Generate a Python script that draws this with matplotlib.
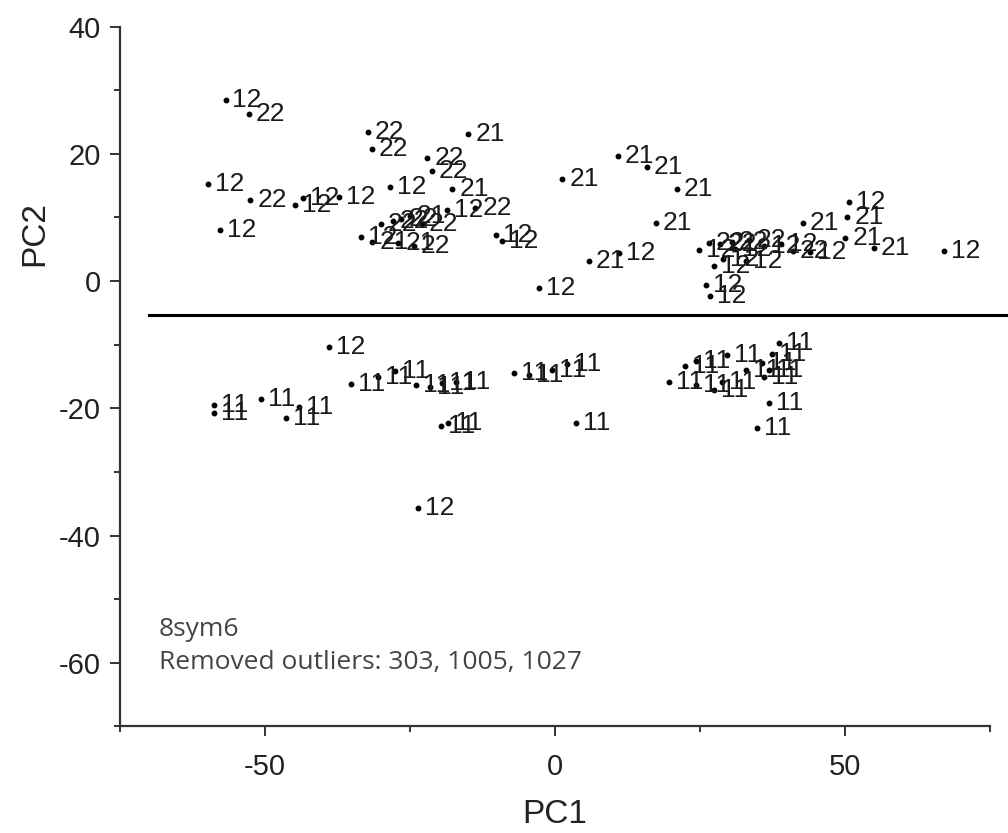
import matplotlib
matplotlib.use('Agg')
import matplotlib.pyplot as plt
from matplotlib.ticker import MultipleLocator

# PCA scores and group label per sample
pc1 = [-56.8, -52.8, -32.2, -31.6, -22.0, -21.2, -17.7, -14.9,
       -59.8, -52.5, -44.8, -43.5, -37.2, -28.5, -57.8,
       -33.5, -31.5, -30.0, -28.0, -26.5, -25.0, -27.0, -24.3, -23.0,
       -18.6, -13.7, -10.1, -9.1,
       1.3, 10.9, 15.9, 21.0, 17.4, 5.9, 11.0, -2.8,
       50.7, 42.8, 50.4, 50.1, 55.0, 67.1,
       24.8, 27.4, 26.0, 26.8,
       26.5, 28.5, 30.5, 33.5, 36.0, 39.0, 29.0, 33.0, 41.0, 44.0, 31.0,
       -39.0, -23.6,
       -58.8, -58.8, -50.7, -46.3, -44.1, -35.1, -30.5, -27.5,
       -24.0, -21.5, -19.5, -17.0, -19.7, -18.5,
       -7.1, -4.5, -0.5, 2.1, 3.6,
       19.7, 24.3, 22.5, 24.3, 27.4, 29.7, 28.8, 32.9, 35.7, 36.9, 36.0,
       38.6, 37.5, 36.9, 34.9]
pc2 = [28.4, 26.2, 23.4, 20.7, 19.4, 17.3, 14.4, 23.2,
       15.3, 12.7, 11.9, 13.0, 13.2, 14.8, 8.0,
       7.0, 6.2, 9.0, 9.5, 9.8, 10.3, 6.0, 5.5, 9.0,
       11.2, 11.5, 7.3, 6.3,
       16.1, 19.6, 17.9, 14.5, 9.1, 3.1, 4.4, -1.1,
       12.5, 9.2, 10.0, 6.8, 5.2, 4.7,
       4.9, 2.3, -0.6, -2.3,
       6.0, 5.8, 6.2, 6.5, 5.5, 5.8, 3.5, 3.2, 4.8, 4.5, 5.0,
       -10.3, -35.7,
       -19.5, -20.7, -18.6, -21.5, -19.8, -16.1, -15.0, -14.2,
       -16.3, -16.6, -16.0, -15.8, -22.8, -22.3,
       -14.5, -14.7, -13.9, -13.1, -22.3,
       -15.8, -16.3, -13.4, -12.6, -17.1, -11.6, -15.8, -13.9, -12.9, -13.9, -15.0,
       -9.8, -11.5, -19.1, -23.1]
grp = ['12', '22', '22', '22', '22', '22', '21', '21',
       '12', '22', '12', '12', '12', '12', '12',
       '12', '21', '22', '22', '22', '21', '21', '22', '22',
       '12', '22', '12', '12',
       '21', '21', '21', '21', '21', '21', '12', '12',
       '12', '21', '21', '21', '21', '12',
       '12', '12', '12', '12',
       '22', '22', '22', '22', '12', '12', '12', '12', '22', '12', '12',
       '12', '12',
       '11', '11', '11', '11', '11', '11', '11', '11',
       '11', '11', '11', '11', '11', '11',
       '11', '11', '11', '11', '11',
       '11', '11', '11', '11', '11', '11', '11', '11', '11', '11', '11',
       '11', '11', '11', '11']

cut_y = -5.4
note = ['8sym6', 'Removed outliers: 303, 1005, 1027']

plt.rcParams['font.family'] = ['Liberation Sans', 'DejaVu Sans']
plt.rcParams['axes.unicode_minus'] = False

fig = plt.figure(figsize=(10.08, 8.33), dpi=100)
ax = fig.add_axes([0.119, 0.128, 0.863, 0.840])

ax.plot(pc1, pc2, 'o', color='black', markersize=3.2, linestyle='none')
for x, y, g in zip(pc1, pc2, grp):
    ax.annotate(g, (x, y), xytext=(5, 0), textcoords='offset points',
                va='center', ha='left', fontsize=19, color='#1a1a1a')

# separating line
ax.plot([-70, 78], [cut_y, cut_y], color='black', linewidth=2.2, clip_on=False)

ax.text(-68.3, -54.8, note[0], fontsize=19, color='#444444',
        family=['Open Sans', 'DejaVu Sans'], va='center')
ax.text(-68.3, -60.0, note[1], fontsize=19, color='#444444',
        family=['Open Sans', 'DejaVu Sans'], va='center')

ax.set_xlim(-75, 75)
ax.set_ylim(-70, 40)
ax.xaxis.set_major_locator(MultipleLocator(50))
ax.xaxis.set_minor_locator(MultipleLocator(25))
ax.yaxis.set_major_locator(MultipleLocator(20))
ax.yaxis.set_minor_locator(MultipleLocator(10))

for s in ['top', 'right']:
    ax.spines[s].set_visible(False)
for s in ['left', 'bottom']:
    ax.spines[s].set_linewidth(1.6)
    ax.spines[s].set_color('#333333')

ax.tick_params(which='major', direction='out', length=7, width=1.4,
               labelsize=21, colors='#333333', labelcolor='#222222', pad=7)
ax.tick_params(axis='x', which='major', pad=12)
ax.tick_params(which='minor', direction='out', length=4, width=1.4,
               colors='#333333')

ax.set_xlabel('PC1', fontsize=24, color='#222222')
ax.set_ylabel('PC2', fontsize=24, color='#222222')
ax.xaxis.set_label_coords(0.5, -0.104)
ax.yaxis.set_label_coords(-0.08, 0.705)

fig.savefig('out.png', dpi=100)
